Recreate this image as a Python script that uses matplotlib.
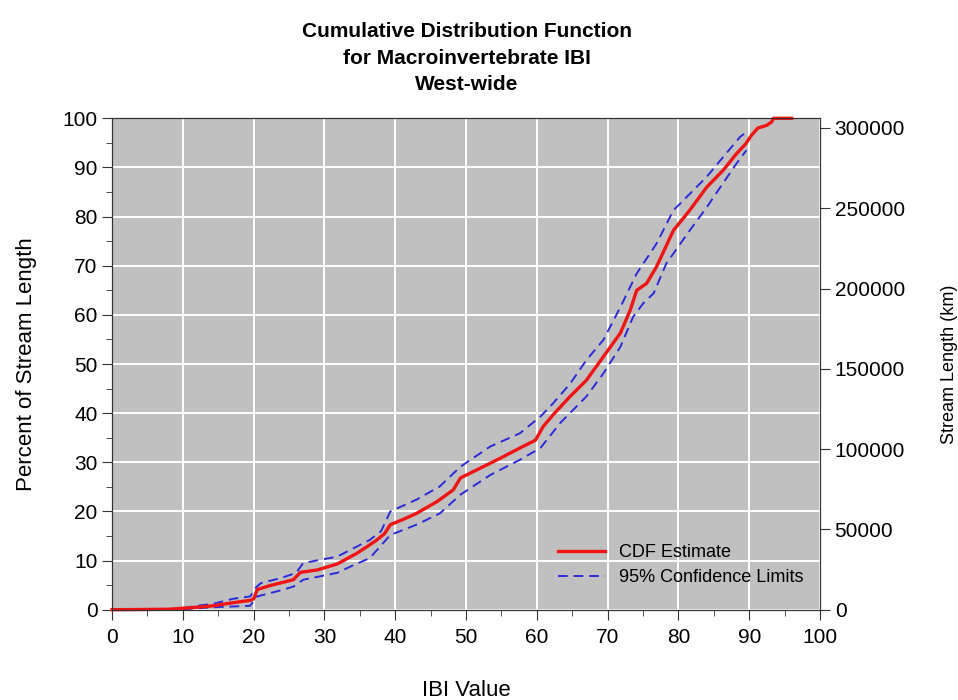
import matplotlib
matplotlib.use("Agg")
import matplotlib.pyplot as plt
from matplotlib.ticker import MultipleLocator

plt.rcParams['font.family'] = ['Liberation Sans Narrow', 'Liberation Sans', 'DejaVu Sans']

# CDF estimate (IBI value, percent of stream length)
cdf_ibi = [0, 5, 8, 10, 12, 14.3, 17, 19.5, 20, 20.5, 22.3, 25.6, 26.6, 29, 31.8, 34.6,
           36.4, 37.4, 38.5, 39.3, 41, 43, 45.9, 48.2, 49.2, 52, 54.8, 57.6, 59.8, 60.9,
           62.5, 64.7, 67, 69.4, 71.8, 73.2, 74.1, 75.5, 76.9, 79.3, 81.6, 84, 86.3, 88.2,
           89.5, 90.3, 91.2, 92.5, 93.2, 93.4, 96]
cdf_pct = [0, 0.05, 0.1, 0.3, 0.5, 0.8, 1.4, 1.9, 2.2, 4.1, 4.9, 6.1, 7.6, 8.1, 9.3, 11.5,
           13.2, 14.2, 15.5, 17.3, 18.3, 19.6, 22, 24.4, 26.8, 28.8, 30.8, 32.9, 34.5, 37.3,
           40, 43.4, 46.7, 51.5, 56.3, 61, 65, 66.4, 69.8, 77.2, 81.3, 86, 89.4, 92.8,
           94.8, 96.5, 98, 98.6, 99.3, 100, 100]

# upper 95% confidence limit
upper_ibi = [10, 12, 14.3, 17, 19.5, 20.3, 21, 24, 26, 27, 31.8, 36.4, 38, 39.3, 43, 46.3,
             49.2, 53.4, 57.6, 60.5, 62.3, 64.7, 67, 69.4, 71.8, 74.1, 76.9, 79.3, 84,
             86.3, 88.7, 89.4]
upper_pct = [0.3, 0.8, 1.2, 2.2, 2.7, 4.5, 5.4, 6.5, 7.5, 9.5, 10.8, 14.2, 16, 20, 22.4, 25.1,
             29.1, 33.2, 35.9, 39.3, 42, 46, 50.8, 54.9, 61.6, 68.4, 74.5, 81.3, 88.1,
             92.1, 96.2, 97]

# lower 95% confidence limit
lower_ibi = [10, 14.3, 19.5, 20.5, 24, 25.6, 27, 31.8, 34, 36.4, 39.3, 43, 46.3, 49.2, 53.4,
             57.6, 60.5, 63.3, 67, 69.4, 71.8, 73.6, 75, 76.5, 78.3, 79.3, 81.6, 84, 86.3,
             88.2, 89.6]
lower_pct = [0.1, 0.5, 0.8, 2.7, 4, 4.7, 6.1, 7.5, 9, 10.5, 15.2, 17.3, 19.6, 23.4, 27.4,
             30.5, 32.9, 38, 43.4, 48.1, 53.5, 59.6, 62.3, 64.4, 70.5, 72.5, 77.2, 81.9, 86.8,
             90.8, 93.5]

total_km = 306000

fig = plt.figure(figsize=(9.58, 7), dpi=100)
ax = fig.add_axes([0.117, 0.129, 0.739, 0.702])
ax.set_facecolor('#c0c0c0')

ax.plot(upper_ibi, upper_pct, color='#2b2bd9', lw=1.4, dashes=(5, 3),
        label='95% Confidence Limits', zorder=3)
ax.plot(lower_ibi, lower_pct, color='#2b2bd9', lw=1.4, dashes=(5, 3), zorder=3)
ax.plot(cdf_ibi, cdf_pct, color='#f01414', lw=2.4, label='CDF Estimate', zorder=4,
        clip_on=False)

ax.set_xlim(0, 100)
ax.set_ylim(0, 100)
ax.xaxis.set_major_locator(MultipleLocator(10))
ax.xaxis.set_minor_locator(MultipleLocator(5))
ax.yaxis.set_major_locator(MultipleLocator(10))
ax.yaxis.set_minor_locator(MultipleLocator(5))
ax.tick_params(which='both', direction='out', labelsize=15, color='#333333')
ax.tick_params(which='major', length=7)
ax.tick_params(which='minor', length=4)
ax.tick_params(axis='x', pad=6)
ax.grid(True, which='major', color='white', lw=1.4)
ax.set_axisbelow(True)
for s in ax.spines.values():
    s.set_color('#333333')

ax.set_xlabel('IBI Value', fontsize=16, labelpad=24)
ax.set_ylabel('Percent of Stream Length', fontsize=16, labelpad=18)

ax2 = ax.twinx()
ax2.set_ylim(0, total_km)
ax2.yaxis.set_major_locator(MultipleLocator(50000))
ax2.tick_params(direction='out', length=7, labelsize=15, color='#333333')
ax2.set_ylabel('Stream Length (km)', fontsize=13, labelpad=26)
for s in ax2.spines.values():
    s.set_color('#333333')

h, l = ax.get_legend_handles_labels()
ax.legend(h[::-1], l[::-1], loc='lower right', frameon=False, fontsize=13,
          handlelength=2.6, bbox_to_anchor=(1.0, 0.015), labelspacing=0.45)

fig.text(0.487, 0.968, 'Cumulative Distribution Function\nfor Macroinvertebrate IBI\nWest-wide',
         ha='center', va='top', fontsize=15, fontweight='bold', linespacing=1.5)

fig.savefig('out.png', dpi=100)
